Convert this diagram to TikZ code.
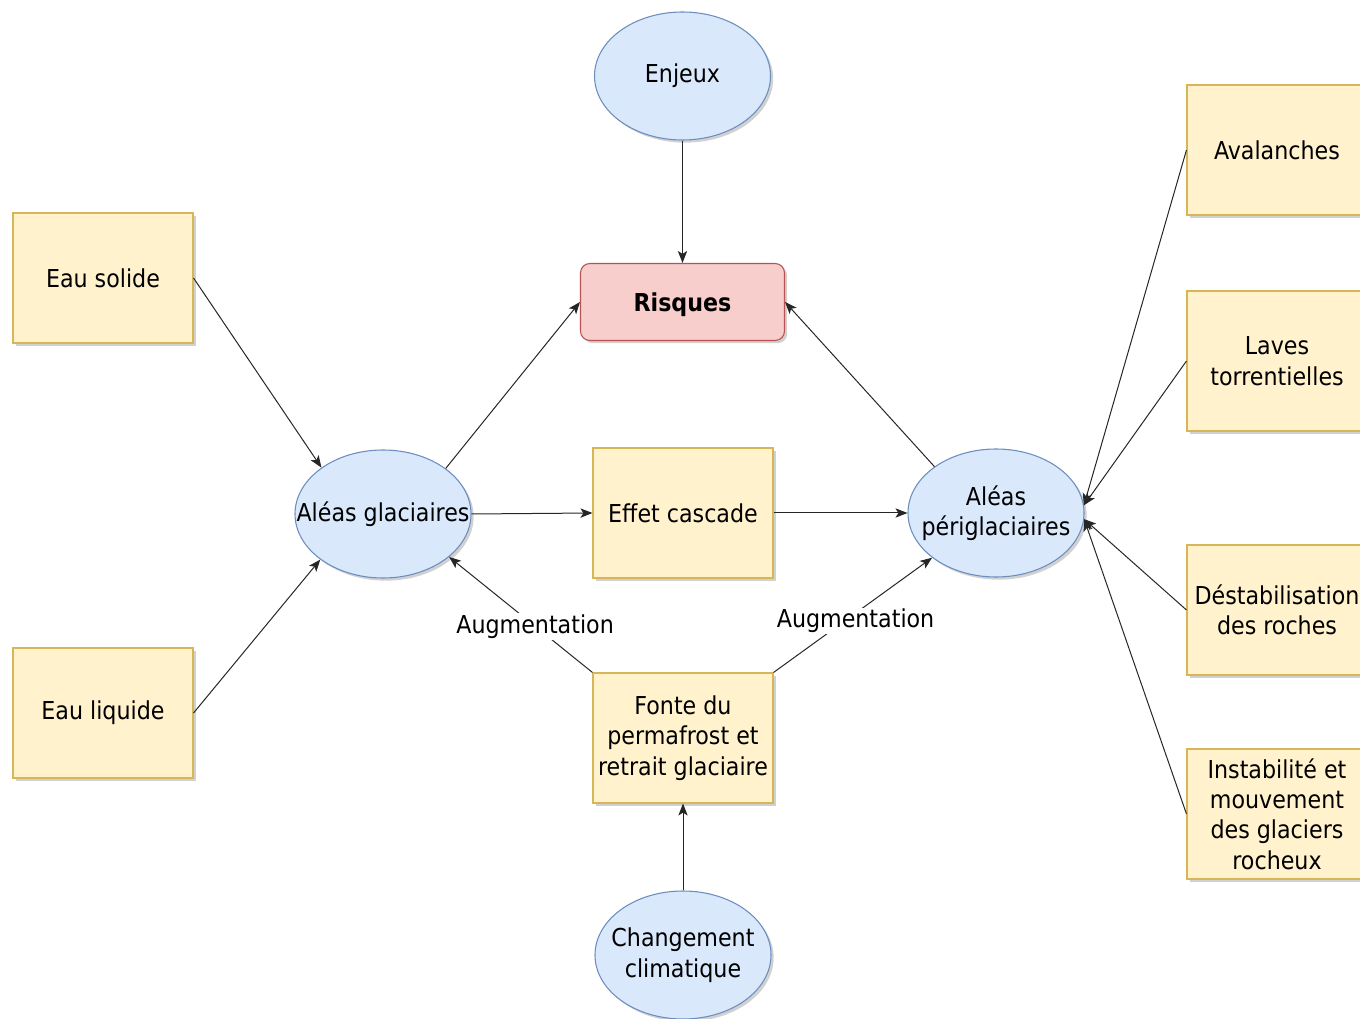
\documentclass[tikz,border=0pt]{standalone}
\usepackage{fontspec}
\setmainfont{DejaVu Sans Condensed}
\usetikzlibrary{arrows.meta,shapes.geometric,shadows}
\definecolor{jauneFond}{HTML}{FFF2CC}
\definecolor{jauneBord}{HTML}{D6B656}
\definecolor{bleuFond}{HTML}{DAE8FC}
\definecolor{bleuBord}{HTML}{6C8EBF}
\definecolor{rougeFond}{HTML}{F8CECC}
\definecolor{rougeBord}{HTML}{B85450}
\tikzset{
	ombre/.style={drop shadow={shadow xshift=2pt,shadow yshift=-2pt,opacity=0.3,fill=black!60}},
	texte/.style={font=\fontsize{18.5}{22.8}\selectfont,align=center},
	carre/.style={texte,rectangle,draw=jauneBord,fill=jauneFond,line width=0.8pt,
		minimum width=135pt,minimum height=97.5pt,inner sep=2pt,ombre},
	bulle/.style={texte,ellipse,draw=bleuBord,fill=bleuFond,line width=0.8pt,
		minimum width=132pt,minimum height=96pt,inner xsep=-40pt,inner ysep=0pt,ombre},
	risque/.style={texte,rectangle,rounded corners=7pt,draw=rougeBord,fill=rougeFond,
		line width=0.8pt,minimum width=153pt,minimum height=57.75pt,text depth=0pt,ombre},
	fleche/.style={-{Stealth[length=9pt,width=7pt,inset=2.2pt]},line width=0.75pt,draw=black!85},
	etiq/.style={texte,fill=white,inner sep=1pt}
}
\begin{document}
\begin{tikzpicture}[x=0.75pt,y=-0.75pt]
	\clip (0,0) rectangle (1360,1019);
	% centre
	\node[bulle] (enjeux) at (682.5,76) {Enjeux};
	\node[risque] (risques) at (682.5,302) {\textbf{Risques}};
	\node[bulle] (alg) at (383,514) {Aléas glaciaires};
	\node[carre] (cascade) at (683,513) {Effet cascade};
	\node[bulle] (aperi) at (996,513) {Aléas\\périglaciaires};
	\node[carre] (fonte) at (683,738) {Fonte du\\permafrost et\\retrait glaciaire};
	\node[bulle] (climat) at (683,955) {Changement\\climatique};
	% gauche
	\node[carre] (solide) at (103,278) {Eau solide};
	\node[carre] (liquide) at (103,713) {Eau liquide};
	% droite
	\node[carre] (avalanches) at (1277,150) {Avalanches};
	\node[carre,minimum height=105pt] (laves) at (1277,361) {Laves\\torrentielles};
	\node[carre] (destab) at (1277,610) {Déstabilisation\\des roches};
	\node[carre] (instab) at (1277,814) {Instabilité et\\mouvement\\des glaciers\\rocheux};
	% fleches
	\draw[fleche] (enjeux.south) -- (risques.north);
	\draw[fleche] (solide.east) -- (alg.143);
	\draw[fleche] (liquide.east) -- (alg.216);
	\draw[fleche] (alg.36) -- (risques.west);
	\draw[fleche] (alg.east) -- (cascade.west);
	\draw[fleche] (cascade.east) -- (aperi.west);
	\draw[fleche] (aperi.143) -- (risques.east);
	\draw[fleche] (fonte.north west) -- node[etiq,pos=0.40] (augG) {Augmentation} (alg.-33);
	\draw[fleche] (fonte.north east) -- node[etiq,pos=0.45,xshift=8pt] (augD) {Augmentation} (aperi.215);
	\draw[fleche] (climat.north) -- (fonte.south);
	\draw[fleche] (avalanches.west) -- (aperi.5);
	\draw[fleche] (laves.west) -- (aperi.5);
	\draw[fleche] (destab.west) -- (aperi.-4);
	\draw[fleche] (instab.west) -- (aperi.-4);
\end{tikzpicture}
\end{document}
